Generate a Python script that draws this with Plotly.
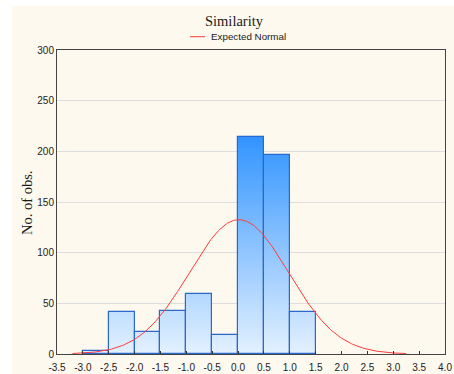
import numpy as np
import plotly.graph_objects as go

# Histogram of the "Similarity" score: bin edges and counts per bin
bin_edges = [-3.0, -2.5, -2.0, -1.5, -1.0, -0.5, 0.0, 0.5, 1.0, 1.5]
counts = [3, 41, 22, 42, 59, 19, 214, 196, 41]

x_tick_vals = [-3.5, -3.0, -2.5, -2.0, -1.5, -1.0, -0.5, 0.0, 0.5, 1.0, 1.5,
               2.0, 2.5, 3.0, 3.5, 4.0]
x_tick_text = ["-3.5", "-3.0", "-2.5", "-2.0", "-1.5", "-1.0", "-0.5", "0.0",
               "0.5", "1.0", "1.5", "2.0", "2.5", "3.0", "3.5", "4.0"]
y_tick_vals = [0, 50, 100, 150, 200, 250, 300]

# span over which the fitted normal curve is drawn
curve_x_min, curve_x_max = -3.2, 3.25

W, H = 454, 374
ML, MR, MT, MB = 57, 9, 50, 20
PW, PH = W - ML - MR, H - MT - MB


def px_x(px):
    return (px - ML) / PW


def px_y(py):
    return (H - MB - py) / PH


edges = np.array(bin_edges)
centers = (edges[:-1] + edges[1:]) / 2
width = edges[1] - edges[0]
cnt = np.array(counts, dtype=float)

fig = go.Figure()

# vertical gradient fill: colour depends on height above zero
c_low = np.array([228, 241, 255])
c_high = np.array([50, 148, 255])
g_top = 214.0
step = 2.0
k = 0
while k * step < cnt.max():
    lo = k * step
    seg = np.clip(cnt - lo, 0, step)
    t = min((lo + step / 2) / g_top, 1.0)
    c = (c_low + (c_high - c_low) * t).round().astype(int)
    fig.add_trace(go.Bar(
        x=centers, y=seg, base=[lo] * len(centers), width=width,
        marker=dict(color=f"rgb({c[0]},{c[1]},{c[2]})", line=dict(width=0)),
        hoverinfo="skip", showlegend=False))
    k += 1

# bar outlines
fig.add_trace(go.Bar(
    x=centers, y=cnt, width=width,
    marker=dict(color="rgba(0,0,0,0)", line=dict(color="#2A68CE", width=1.2)),
    showlegend=False))

# expected normal curve from the histogram's mean and standard deviation
n = cnt.sum()
mu = (cnt * centers).sum() / n
sd = np.sqrt((cnt * (centers - mu) ** 2).sum() / n)
xc = np.linspace(curve_x_min, curve_x_max, 300)
yc = n * width * np.exp(-0.5 * ((xc - mu) / sd) ** 2) / (sd * np.sqrt(2 * np.pi))
fig.add_trace(go.Scatter(x=xc, y=yc, mode="lines",
                         line=dict(color="#FF3B3B", width=1),
                         name="Expected Normal", showlegend=False))

tick_font = dict(family="Liberation Sans, Arial", size=10, color="#222222")

fig.update_layout(
    width=W, height=H,
    margin=dict(l=ML, r=MR, t=MT, b=MB, autoexpand=False),
    paper_bgcolor="white",
    plot_bgcolor="white",
    barmode="overlay",
    bargap=0,
    xaxis=dict(range=[-3.5, 4.0], tickvals=x_tick_vals, ticktext=x_tick_text,
               ticks="inside", ticklen=3, tickcolor="#333333",
               ticklabelstandoff=4, automargin=False,
               showline=True, linecolor="#444444", linewidth=1, mirror=True,
               showgrid=False, zeroline=False, tickfont=tick_font),
    yaxis=dict(range=[0, 300], tickvals=y_tick_vals, ticks="",
               automargin=False,
               showline=True, linecolor="#444444", linewidth=1, mirror=True,
               showgrid=True, gridcolor="#DEDEDE", gridwidth=1,
               zeroline=False, tickfont=tick_font),
    xaxis2=dict(overlaying="x", side="top", anchor="y2", range=[0, 10],
                tickvals=[0.5, 1.5, 2.5, 3.5, 4.5, 5.5, 6.5, 7.5, 8.5, 9.5],
                ticks="inside", ticklen=3, tickcolor="#555555",
                showticklabels=False, showgrid=False, zeroline=False,
                showline=False),
    yaxis2=dict(overlaying="y", side="right", anchor="x2", range=[0, 5],
                tickvals=[1, 2, 3, 4], ticks="inside", ticklen=3,
                tickcolor="#555555", showticklabels=False, showgrid=False,
                zeroline=False, showline=False),
    showlegend=False,
)

# cream panel behind everything
fig.add_shape(type="rect", xref="paper", yref="paper", layer="below",
              x0=px_x(12), x1=px_x(W + 2), y0=px_y(H + 2), y1=px_y(6),
              fillcolor="#FDF9EE", line=dict(width=0))

# title
fig.add_annotation(text="Similarity", xref="paper", yref="paper",
                   x=px_x(234.5), y=px_y(20.7), showarrow=False,
                   xanchor="center", yanchor="middle",
                   font=dict(family="Liberation Serif, Times New Roman",
                             size=14.5, color="#1A1A1A"))

# legend entry for the normal curve
fig.add_shape(type="line", xref="paper", yref="paper",
              x0=px_x(190), x1=px_x(205), y0=px_y(36.7), y1=px_y(36.7),
              line=dict(color="#FF3B3B", width=1))
fig.add_annotation(text="Expected Normal", xref="paper", yref="paper",
                   x=px_x(209), y=px_y(36.7), showarrow=False,
                   xanchor="left", yanchor="middle",
                   font=dict(family="Liberation Sans, Arial", size=9.8,
                             color="#1A1A1A"))

# y-axis title
fig.add_annotation(text="No. of obs.", xref="paper", yref="paper",
                   x=px_x(27), y=px_y(203), showarrow=False, textangle=-90,
                   xanchor="center", yanchor="middle",
                   font=dict(family="Liberation Serif, Times New Roman",
                             size=14.5, color="#1A1A1A"))

fig.write_html("out.html")
